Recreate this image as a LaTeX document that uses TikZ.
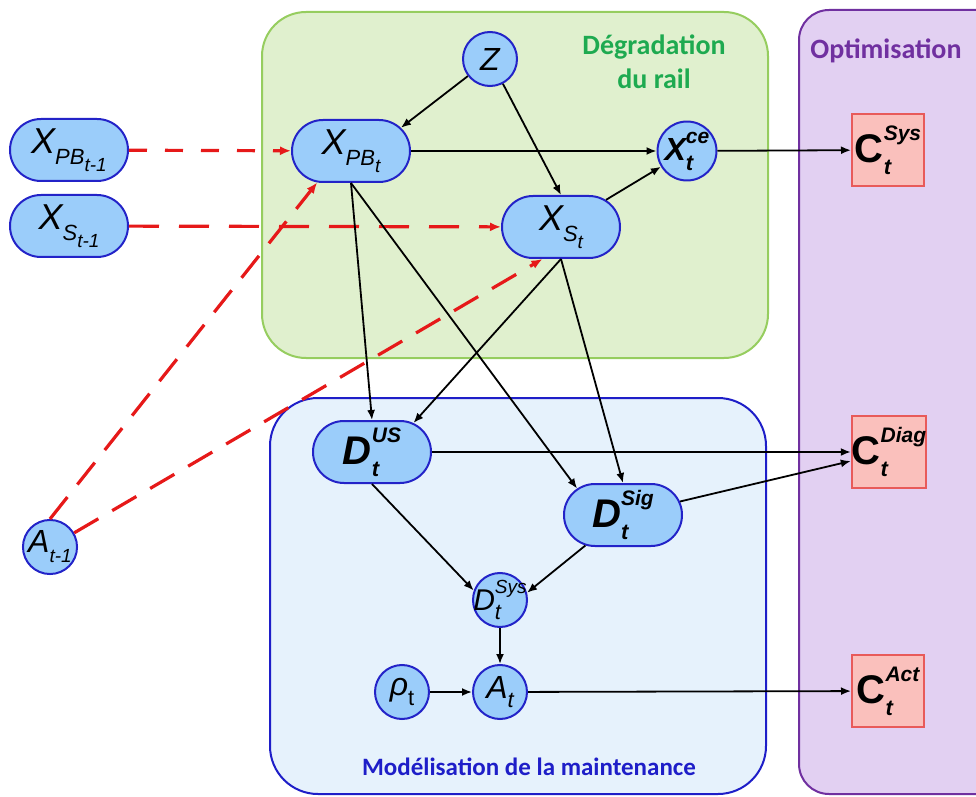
\documentclass[tikz,border=0pt]{standalone}
\usepackage{fontspec}
\setmainfont{Liberation Sans}
\newfontfamily\labelfont{Carlito}
\usetikzlibrary{arrows.meta}
\usetikzlibrary{shapes.misc}
\definecolor{nodefill}{RGB}{155,205,250}
\definecolor{nodeline}{RGB}{35,35,200}
\definecolor{degfill}{RGB}{224,240,206}
\definecolor{degline}{RGB}{150,205,95}
\definecolor{degtext}{RGB}{30,170,80}
\definecolor{maintfill}{RGB}{230,242,252}
\definecolor{maintline}{RGB}{30,30,200}
\definecolor{optfill}{RGB}{226,208,242}
\definecolor{optline}{RGB}{112,48,160}
\definecolor{costfill}{RGB}{250,192,188}
\definecolor{costline}{RGB}{232,90,90}
\definecolor{dashred}{RGB}{230,25,25}
\newcommand\lo[1]{\raisebox{-0.55ex}{\fontsize{11}{11}\selectfont#1}}
\newcommand\lolo[1]{\raisebox{-0.6ex}{\fontsize{9.5}{9.5}\selectfont#1}}
\newcommand\hi[1]{\raisebox{1.05ex}{\fontsize{10.5}{10.5}\selectfont#1}}
\newcommand\var[3]{#1\makebox[0pt][l]{\lo{#2}}\hi{#3}}
\tikzstyle{pill}=[rounded rectangle,draw=nodeline,fill=nodefill,line width=1pt,minimum width=59pt,minimum height=31pt,inner sep=0pt,font=\fontsize{18}{18}\selectfont\itshape]
\tikzstyle{circ}=[circle,draw=nodeline,fill=nodefill,line width=1pt,minimum size=27pt,inner sep=0pt,font=\fontsize{16}{16}\selectfont\itshape]
\tikzstyle{cost}=[rectangle,draw=costline,fill=costfill,line width=1pt,minimum size=36pt,inner sep=0pt,font=\fontsize{20}{20}\selectfont\bfseries]
\tikzstyle{panel}=[line width=1pt]
\tikzstyle{lbl}=[font=\labelfont\bfseries\fontsize{14}{17}\selectfont,align=center]
\tikzstyle{dep}=[line width=0.9pt,-{Latex[length=5pt,width=4pt]}]
\tikzstyle{prev}=[dashred,line width=1.6pt,-{Latex[length=5.5pt,width=4.5pt]}]
\begin{document}
\begin{tikzpicture}[x=0.5pt,y=-0.5pt]
	\clip (0,0) rectangle (976,797);
	% zones
	\draw[panel,draw=degline,fill=degfill,rounded corners=22pt] (262,12) rectangle (768,358);
	\draw[panel,draw=maintline,fill=maintfill,rounded corners=24pt] (270,398) rectangle (766,794);
	\draw[panel,draw=optline,fill=optfill,rounded corners=15pt] (799,10) rectangle (1010,794);
	\node[lbl,text=degtext] (deglbl) at (654,62) {Dégradation\\du rail};
	\node[lbl,text=optline] (optlbl) at (886,51) {Optimisation};
	\node[lbl,text=maintline,font=\labelfont\bfseries\fontsize{12.5}{15}\selectfont] (maintlbl) at (529,767) {Modélisation de la maintenance};
	% variables
	\node[pill] (xpbprev) at (69,150) {X\lo{\itshape PB\lolo{t-1}}};
	\node[pill] (xsprev)  at (69,226) {X\lo{\itshape S\lolo{t-1}}};
	\node[circ] (aprev) at (50,547) {A\lolo{t-1}};
	\node[circ] (z) at (490,59) {Z};
	\node[pill] (xpb) at (351,151) {X\lo{\itshape PB\lolo{t}}};
	\node[pill] (xs)  at (561,227) {X\lo{\itshape S\lolo{t}}};
	\node[circ,font=\fontsize{16}{16}\selectfont\bfseries\itshape] (xce) at (687,151) {\var{X}{t}{ce}};
	\node[pill,font=\fontsize{20}{20}\selectfont\bfseries\itshape] (dus) at (372,452) {\var{D}{t}{US}};
	\node[pill,font=\fontsize{20}{20}\selectfont\bfseries\itshape] (dsig) at (623,515) {\var{D}{t}{Sig}};
	\node[circ,inner sep=-3pt,font=\fontsize{15}{15}\selectfont\itshape] (dsys) at (500,600) {\var{D}{t}{\fontsize{9.5}{9.5}\selectfont Sys}};
	\node[circ] (at) at (500,692) {A\lo{t}};
	\node[circ] (rho) at (402,692) {ρ\upshape\lo{t}};
	\node[cost] (csys)  at (888,150) {C\var{}{\itshape t}{\itshape Sys}};
	\node[cost] (cdiag) at (889,452) {C\var{}{\itshape t}{\itshape Diag}};
	\node[cost] (cact)  at (888,691) {C\var{}{\itshape t}{\itshape Act}};
	% pas de temps precedent
	\draw[prev,dash pattern=on 9pt off 9pt] (xpbprev) -- (xpb);
	\draw[prev,dash pattern=on 15pt off 10pt] (xsprev) -- (xs);
	\draw[prev,dash pattern=on 14pt off 8pt] (aprev.north) -- (xpb.223);
	\draw[prev,dash pattern=on 14pt off 8pt] (aprev) -- (xs.240);
	% dependances
	\draw[dep] (z) -- (xpb.25);
	\draw[dep] (z) -- (xs.north);
	\draw[dep] (xpb) -- (xce);
	\draw[dep] (xs) -- (xce);
	\draw[dep] (xce) -- (csys);
	\draw[dep] (xpb.south) -- (dus.north);
	\draw[dep] (xpb.south) -- (dsig.150);
	\draw[dep] (xs.south) -- (dus.35);
	\draw[dep] (xs.south) -- (dsig.north);
	\draw[dep] (dus) -- (cdiag);
	\draw[dep] (dsig) -- (cdiag);
	\draw[dep] (dus.south) -- (dsys.160);
	\draw[dep] (dsig) -- (dsys.15);
	\draw[dep] (dsys) -- (at);
	\draw[dep] (rho) -- (at);
	\draw[dep] (at) -- (cact);
\end{tikzpicture}
\end{document}
